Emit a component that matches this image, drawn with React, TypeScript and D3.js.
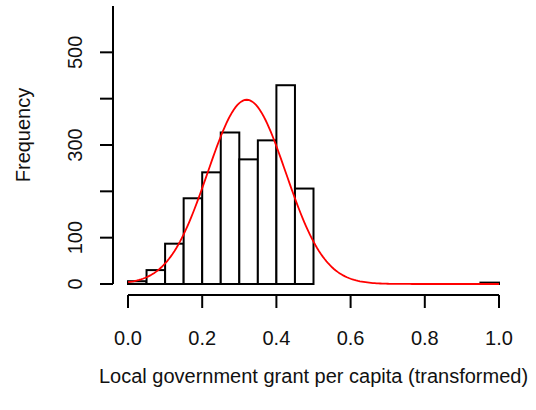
import React from "react";
import * as d3 from "d3";

const binStarts = [0.0, 0.05, 0.1, 0.15, 0.2, 0.25, 0.3, 0.35, 0.4, 0.45, 0.95];
const binCounts = [6, 30, 87, 185, 241, 327, 269, 310, 429, 206, 3];
const binWidth = 0.05;
const xTicks = [0, 0.2, 0.4, 0.6, 0.8, 1.0];
const yTicks = [0, 100, 200, 300, 400, 500];
const yTickLabels = ["0", "100", "", "300", "", "500"];
const curveMean = 0.32;
const curveSd = 0.105;
const xLabel = "Local government grant per capita (transformed)";
const yLabel = "Frequency";

export default function App() {
  const W = 536, H = 410;
  const x = d3.scaleLinear().domain([0, 1]).range([128, 499]);
  const y = d3.scaleLinear().domain([0, 600]).range([284, 6]);
  const n = d3.sum(binCounts);
  const pts = d3.range(0, 1.0001, 0.005).map((v) => [
    v,
    (n * binWidth) / (curveSd * Math.sqrt(2 * Math.PI)) *
      Math.exp(-0.5 * ((v - curveMean) / curveSd) ** 2),
  ]);
  const line = d3
    .line<number[]>()
    .x((d) => x(d[0]))
    .y((d) => y(d[1]));
  const font = "'Liberation Sans', Arial, sans-serif";
  const axisY = 295;
  const axisX = 113;
  return (
    <svg
      width={W}
      height={H}
      style={{ position: "absolute", left: 0, top: 0, background: "#fff" }}
      fontFamily={font}
    >
      {/* bars */}
      {binStarts.map((b, i) => (
        <rect
          key={i}
          x={x(b)}
          y={y(binCounts[i])}
          width={x(b + binWidth) - x(b)}
          height={y(0) - y(binCounts[i])}
          fill="#fff"
          stroke="#000"
          strokeWidth={2}
        />
      ))}
      {/* normal curve */}
      <path d={line(pts) || ""} fill="none" stroke="#ff0000" strokeWidth={1.8} />
      {/* x axis */}
      <line x1={x(0)} x2={x(1)} y1={axisY} y2={axisY} stroke="#000" strokeWidth={2} />
      {xTicks.map((t) => (
        <g key={t}>
          <line x1={x(t)} x2={x(t)} y1={axisY} y2={axisY + 13} stroke="#000" strokeWidth={2} />
          <text x={x(t)} y={338} fontSize={20} textAnchor="middle" dominantBaseline="central" fill="#111">
            {t.toFixed(1)}
          </text>
        </g>
      ))}
      {/* y axis */}
      <line x1={axisX} x2={axisX} y1={y(0)} y2={y(600)} stroke="#000" strokeWidth={2} />
      {yTicks.map((t, i) => (
        <g key={t}>
          <line x1={axisX} x2={axisX - 13} y1={y(t)} y2={y(t)} stroke="#000" strokeWidth={2} />
          {yTickLabels[i] && (
            <text
              transform={`translate(75,${y(t)}) rotate(-90)`}
              fontSize={20}
              textAnchor="middle"
              dominantBaseline="central"
              fill="#111"
            >
              {yTickLabels[i]}
            </text>
          )}
        </g>
      ))}
      <text x={313.5} y={383} fontSize={20} textAnchor="middle" fill="#111">
        {xLabel}
      </text>
      <text
        transform={`translate(23,135) rotate(-90)`}
        fontSize={20}
        textAnchor="middle"
        dominantBaseline="central"
        fill="#111"
      >
        {yLabel}
      </text>
    </svg>
  );
}
